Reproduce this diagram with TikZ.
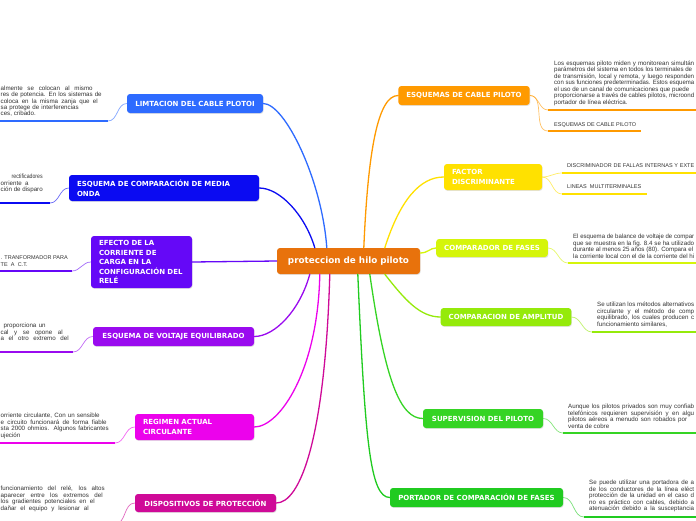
\documentclass[tikz,border=0pt]{standalone}
\usepackage{fontspec}
\usepackage{graphicx}
\setmainfont{DejaVu Sans}
\newfontfamily\boxfont{DejaVu Sans}
\newfontfamily\childfont{Liberation Sans}
\usetikzlibrary{shadows}
\newcommand{\fitline}[2]{\setbox0\hbox{#2}\ifdim\wd0>#1pt\relax\resizebox{#1pt}{\height}{#2}\else\makebox[#1pt][s]{#2}\fi}
\newcommand{\capsz}{\fontsize{5.5}{6.5}\selectfont}
\definecolor{cMain}{HTML}{E8720C}
\definecolor{cEsq}{HTML}{FF9A00}
\definecolor{cFac}{HTML}{FFE100}
\definecolor{cCmp}{HTML}{D5F50A}
\definecolor{cAmp}{HTML}{95EA0A}
\definecolor{cSup}{HTML}{35D424}
\definecolor{cPor}{HTML}{20CB20}
\definecolor{cLim}{HTML}{2E6BFF}
\definecolor{cMed}{HTML}{0B0BF2}
\definecolor{cEfe}{HTML}{6508F7}
\definecolor{cVol}{HTML}{9A0BEF}
\definecolor{cReg}{HTML}{EC02EC}
\definecolor{cDis}{HTML}{CF0A98}
\definecolor{cTxt}{HTML}{333333}
\tikzset{
  topic/.style={rounded corners=3pt, text=white, font=\boxfont\bfseries\fontsize{7}{9.6}\selectfont,
    inner xsep=8pt, inner ysep=0pt, align=center,
    drop shadow={opacity=0.22, shadow xshift=0.6pt, shadow yshift=-0.9pt}},
  multitopic/.style={topic, align=left},
  branch/.style={line width=1.3pt, line cap=round},
  twig/.style={line width=0.7pt, opacity=0.6},
  uline/.style={line width=2.4pt},
  child/.style={font=\childfont\fontsize{6.2}{6.5}\selectfont, text=cTxt, align=left, inner sep=0pt, anchor=north west}
}
\begin{document}
\begin{tikzpicture}[x=1pt,y=-1pt]
\useasboundingbox (0,0) rectangle (696,520);
\fill[white] (0,0) rectangle (696,520);
\clip (0,0) rectangle (696,520);

% central
\node[topic, fill=cMain, minimum width=143pt, minimum height=26pt, font=\boxfont\bfseries\fontsize{8.8}{10}\selectfont] (c) at (348.5,261) {proteccion de hilo piloto};

% right topics
\node[topic, fill=cEsq, minimum width=130pt, minimum height=19pt] (esq) at (464,95.5) {ESQUEMAS DE CABLE PILOTO};
\node[multitopic, fill=cFac, text width=82pt, minimum height=26pt] (fac) at (493,177) {FACTOR\\DISCRIMINANTE};
\node[topic, fill=cCmp, minimum width=110pt, minimum height=18pt] (cmp) at (492,248) {COMPARADOR DE FASES};
\node[topic, fill=cAmp, minimum width=130pt, minimum height=18pt] (amp) at (506,317) {COMPARACION DE AMPLITUD};
\node[topic, fill=cSup, minimum width=120pt, minimum height=19pt] (sup) at (483,418.5) {SUPERVISION DEL PILOTO};
\node[topic, fill=cPor, minimum width=173pt, minimum height=19pt] (por) at (476.5,497.5) {PORTADOR DE COMPARACIÓN DE FASES};

% left topics
\node[topic, fill=cLim, minimum width=136pt, minimum height=19pt] (lim) at (195,103.5) {LIMTACION DEL CABLE PLOTOI};
\node[multitopic, fill=cMed, text width=174pt, minimum height=26pt] (med) at (164,188) {ESQUEMA DE COMPARACIÓN DE MEDIA\\ONDA};
\node[multitopic, fill=cEfe, text width=85pt, minimum height=52pt] (efe) at (141.5,262) {EFECTO DE LA\\CORRIENTE DE\\CARGA EN LA\\CONFIGURACIÓN DEL\\RELÉ};
\node[topic, fill=cVol, minimum width=161pt, minimum height=19pt] (vol) at (173.5,336.5) {ESQUEMA DE VOLTAJE EQUILIBRADO};
\node[multitopic, fill=cReg, text width=103pt, minimum height=26pt] (reg) at (194.5,427) {REGIMEN ACTUAL\\CIRCULANTE};
\node[topic, fill=cDis, minimum width=141pt, minimum height=18pt] (dis) at (205.5,503) {DISPOSITIVOS DE PROTECCIÓN};

% main branches
\draw[branch, cLim] ([xshift=50pt]c.north west) .. controls (322,180) and (285,103.5) .. (lim.east);
\draw[branch, cMed] ([xshift=38pt]c.north west) .. controls (305,215) and (280,188) .. (med.east);
\draw[branch, cEfe] (c.west) -- (efe.east);
\draw[branch, cVol] ([xshift=33pt]c.south west) .. controls (300,310) and (275,336.5) .. (vol.east);
\draw[branch, cReg] ([xshift=43pt]c.south west) .. controls (318,370) and (280,427) .. (reg.east);
\draw[branch, cDis] ([xshift=53pt]c.south west) .. controls (325,440) and (300,503) .. (dis.east);
\draw[branch, cEsq] ([xshift=87pt]c.north west) .. controls (368,150) and (378,95.5) .. (esq.west);
\draw[branch, cFac] ([xshift=108pt]c.north west) .. controls (400,200) and (420,177) .. (fac.west);
\draw[branch, cCmp] ([yshift=8pt]c.east) .. controls (428,253) and (430,248) .. (cmp.west);
\draw[branch, cAmp] ([xshift=108pt]c.south west) .. controls (405,300) and (420,317) .. (amp.west);
\draw[branch, cSup] ([xshift=93pt]c.south west) .. controls (385,380) and (400,418.5) .. (sup.west);
\draw[branch, cPor] ([xshift=81pt]c.south west) .. controls (365,440) and (370,497.5) .. (por.west);

% right children
\node[child] (esqT1) at (554,60.5) {\fitline{140}{Los esquemas piloto miden y monitorean simultán}\\\fitline{138}{parámetros del sistema en todos los terminales de}\\\fitline{140}{de transmisión, local y remota, y luego responden}\\\fitline{140}{con sus funciones predeterminadas. Estos esquema}\\\fitline{135}{el uso de un canal de comunicaciones que puede}\\\fitline{140}{proporcionarse a través de cables pilotos, microond}\\portador de línea eléctrica.};
\coordinate (esqA1) at (548,110); \coordinate (esqB1) at (700,110);
\node[child] (esqT2) at (554,122.5) {\capsz\fitline{82}{ESQUEMAS DE CABLE PILOTO}};
\coordinate (esqA2) at (548,131); \coordinate (esqB2) at (641,131);
\draw[uline, cEsq] (esqA1) -- (esqB1);
\draw[uline, cEsq] (esqA2) -- (esqB2);
\draw[twig, cEsq] (esq.east) to[out=0,in=180] (esqA1);
\draw[twig, cEsq] (esq.east) to[out=0,in=180] (esqA2);

\node[child] (facT1) at (567,163.5) {\capsz\fitline{127}{DISCRIMINADOR DE FALLAS INTERNAS Y EXTE}};
\coordinate (facA1) at (562,173); \coordinate (facB1) at (700,173);
\node[child] (facT2) at (567,184.5) {\capsz\fitline{74}{LINEAS MULTITERMINALES}};
\coordinate (facA2) at (562,194); \coordinate (facB2) at (647,194);
\draw[uline, cFac] (facA1) -- (facB1);
\draw[uline, cFac] (facA2) -- (facB2);
\draw[twig, cFac] (fac.east) to[out=0,in=180] (facA1);
\draw[twig, cFac] (fac.east) to[out=0,in=180] (facA2);

\node[child] (cmpT) at (573,234) {\fitline{121}{El esquema de balance de voltaje de compar}\\\fitline{121}{que se muestra en la fig. 8.4 se ha utilizado}\\\fitline{120}{durante al menos 25 años (80). Compara el}\\\fitline{121}{la corriente local con el de la corriente del hi}};
\coordinate (cmpA) at (568,263); \coordinate (cmpB) at (700,263);
\draw[uline, cCmp] (cmpA) -- (cmpB);
\draw[twig, cCmp] (cmp.east) to[out=0,in=180] (cmpA);

\node[child] (ampT) at (597,302) {\fitline{97}{Se utilizan los métodos alternativos}\\\fitline{97}{circulante y el método de comp}\\\fitline{97}{equilibrado, los cuales producen c}\\funcionamiento similares,};
\coordinate (ampA) at (592,332); \coordinate (ampB) at (700,332);
\draw[uline, cAmp] (ampA) -- (ampB);
\draw[twig, cAmp] (amp.east) to[out=0,in=180] (ampA);

\node[child] (supT) at (568,404) {\fitline{126}{Aunque los pilotos privados son muy confiab}\\\fitline{126}{telefónicos requieren supervisión y en algu}\\\fitline{119}{pilotos aéreos a menudo son robados por}\\venta de cobre};
\coordinate (supA) at (563,433); \coordinate (supB) at (700,433);
\draw[uline, cSup] (supA) -- (supB);
\draw[twig, cSup] (sup.east) to[out=0,in=180] (supA);

\node[child] (porT) at (589,480) {\fitline{105}{Se puede utilizar una portadora de a}\\\fitline{105}{de los conductores de la línea eléct}\\\fitline{105}{protección de la unidad en el caso d}\\\fitline{105}{no es práctico con cables, debido a}\\\fitline{105}{atenuación debido a la susceptancia}};
\coordinate (porA) at (584,517); \coordinate (porB) at (700,517);
\draw[uline, cPor] (porA) -- (porB);
\draw[twig, cPor] (por.east) to[out=0,in=180] (porA);

% left children
\node[child, font=\childfont\fontsize{6.2}{6.3}\selectfont] (limT) at (0.5,86) {\fitline{92}{almente se colocan al mismo}\\\fitline{101}{res de potencia. En los sistemas de}\\\fitline{97}{coloca en la misma zanja que el}\\\fitline{78}{sa protege de interferencias}\\ces, cribado.};
\coordinate (limA) at (108,121); \coordinate (limB) at (-4,121);
\draw[uline, cLim] (limB) -- (limA);
\draw[twig, cLim] (lim.west) to[out=180,in=0] (limA);

\node[child] (medT) at (0.5,174) {\hspace*{11pt}\fitline{31}{rectificadores}\\\fitline{28}{orriente a}\\ción de disparo};
\coordinate (medA) at (50,203); \coordinate (medB) at (-4,203);
\draw[uline, cMed] (medB) -- (medA);
\draw[twig, cMed] (med.west) to[out=180,in=0] (medA);

\node[child] (efeT) at (0.5,255.5) {\capsz\fitline{67}{. TRANFORMADOR PARA}\\\capsz\fitline{27}{TE A C.T.}};
\coordinate (efeA) at (72,271); \coordinate (efeB) at (-4,271);
\draw[uline, cEfe] (efeB) -- (efeA);
\draw[twig, cEfe] (efe.west) to[out=180,in=0] (efeA);

\node[child] (volT) at (0.5,323) {\hspace*{3pt}\fitline{42}{proporciona un}\\\fitline{62}{cal y se opone al}\\\fitline{68}{a el otro extremo del}};
\coordinate (volA) at (73,352); \coordinate (volB) at (-4,352);
\draw[uline, cVol] (volB) -- (volA);
\draw[twig, cVol] (vol.west) to[out=180,in=0] (volA);

\node[child] (regT) at (0.5,413) {\fitline{99}{orriente circulante, Con un sensible}\\\fitline{106}{e circuito funcionará de forma fiable}\\\fitline{108}{sta 2000 ohmios. Algunos fabricantes}\\ujeción};
\coordinate (regA) at (115,443); \coordinate (regB) at (-4,443);
\draw[uline, cReg] (regB) -- (regA);
\draw[twig, cReg] (reg.west) to[out=180,in=0] (regA);

\node[child] (disT) at (0.5,486) {\fitline{104}{funcionamiento del relé, los altos}\\\fitline{102}{aparecer entre los extremos del}\\\fitline{94}{los gradientes potenciales en el}\\\fitline{88}{dañar el equipo y lesionar al}};
\coordinate (disA) at (115,524); \coordinate (disB) at (-4,524);
\draw[uline, cDis] (disB) -- (disA);
\draw[twig, cDis] (dis.west) to[out=180,in=0] (disA);
\end{tikzpicture}
\end{document}
